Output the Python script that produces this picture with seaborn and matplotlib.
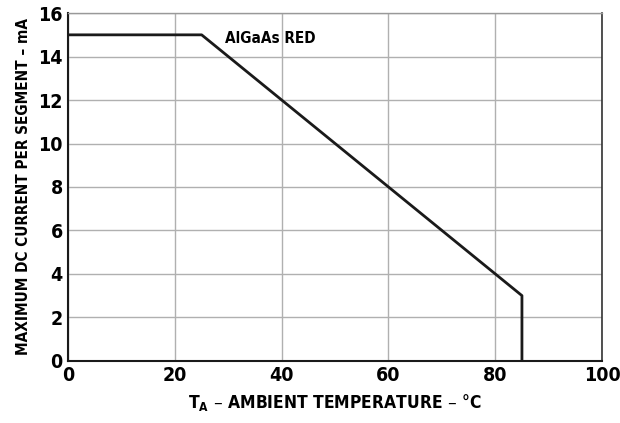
import seaborn as sns
import matplotlib.pyplot as plt

temps = [0, 25, 85, 85]
current = [15, 15, 3, 0]

sns.set_style("white")
plt.rcParams['font.family'] = ['DejaVu Sans']
plt.rcParams['font.stretch'] = 'condensed'
plt.rcParams['font.weight'] = 'bold'
plt.rcParams['text.color'] = 'black'
plt.rcParams['axes.labelcolor'] = 'black'
plt.rcParams['xtick.color'] = 'black'
plt.rcParams['ytick.color'] = 'black'

fig = plt.figure(figsize=(6.2, 4.23), dpi=100)
ax = fig.add_axes([0.110, 0.147, 0.861, 0.822])

sns.lineplot(x=temps, y=current, sort=False, estimator=None, color="#1a1a1a", linewidth=2, ax=ax)

ax.set_xlim(0, 100)
ax.set_ylim(0, 16)
ax.set_xticks(range(0, 101, 20))
ax.set_yticks(range(0, 17, 2))
ax.grid(True, color="#b0b0b0", linewidth=1)
ax.tick_params(length=0, labelsize=14, pad=4)
for lab in ax.get_xticklabels() + ax.get_yticklabels():
    lab.set_fontweight("bold")
    lab.set_fontstretch("condensed")

for s in ["left", "bottom"]:
    ax.spines[s].set_color("#1a1a1a")
    ax.spines[s].set_linewidth(1.5)
ax.spines["right"].set_color("#333333")
ax.spines["right"].set_linewidth(1.2)
ax.spines["top"].set_color("#999999")
ax.spines["top"].set_linewidth(1)

ax.text(29.4, 14.85, "AlGaAs RED", fontsize=11, fontweight="bold", fontstretch="condensed", va="center", ha="left")

ax.set_xlabel(r"T$_\mathregular{A}$ – AMBIENT TEMPERATURE – °C", fontsize=12.5, fontweight="bold", fontstretch="condensed", labelpad=5)
ax.set_ylabel("MAXIMUM DC CURRENT PER SEGMENT – mA", fontsize=11, fontweight="bold", fontstretch="condensed", labelpad=5)

fig.savefig("out.png", dpi=100)
